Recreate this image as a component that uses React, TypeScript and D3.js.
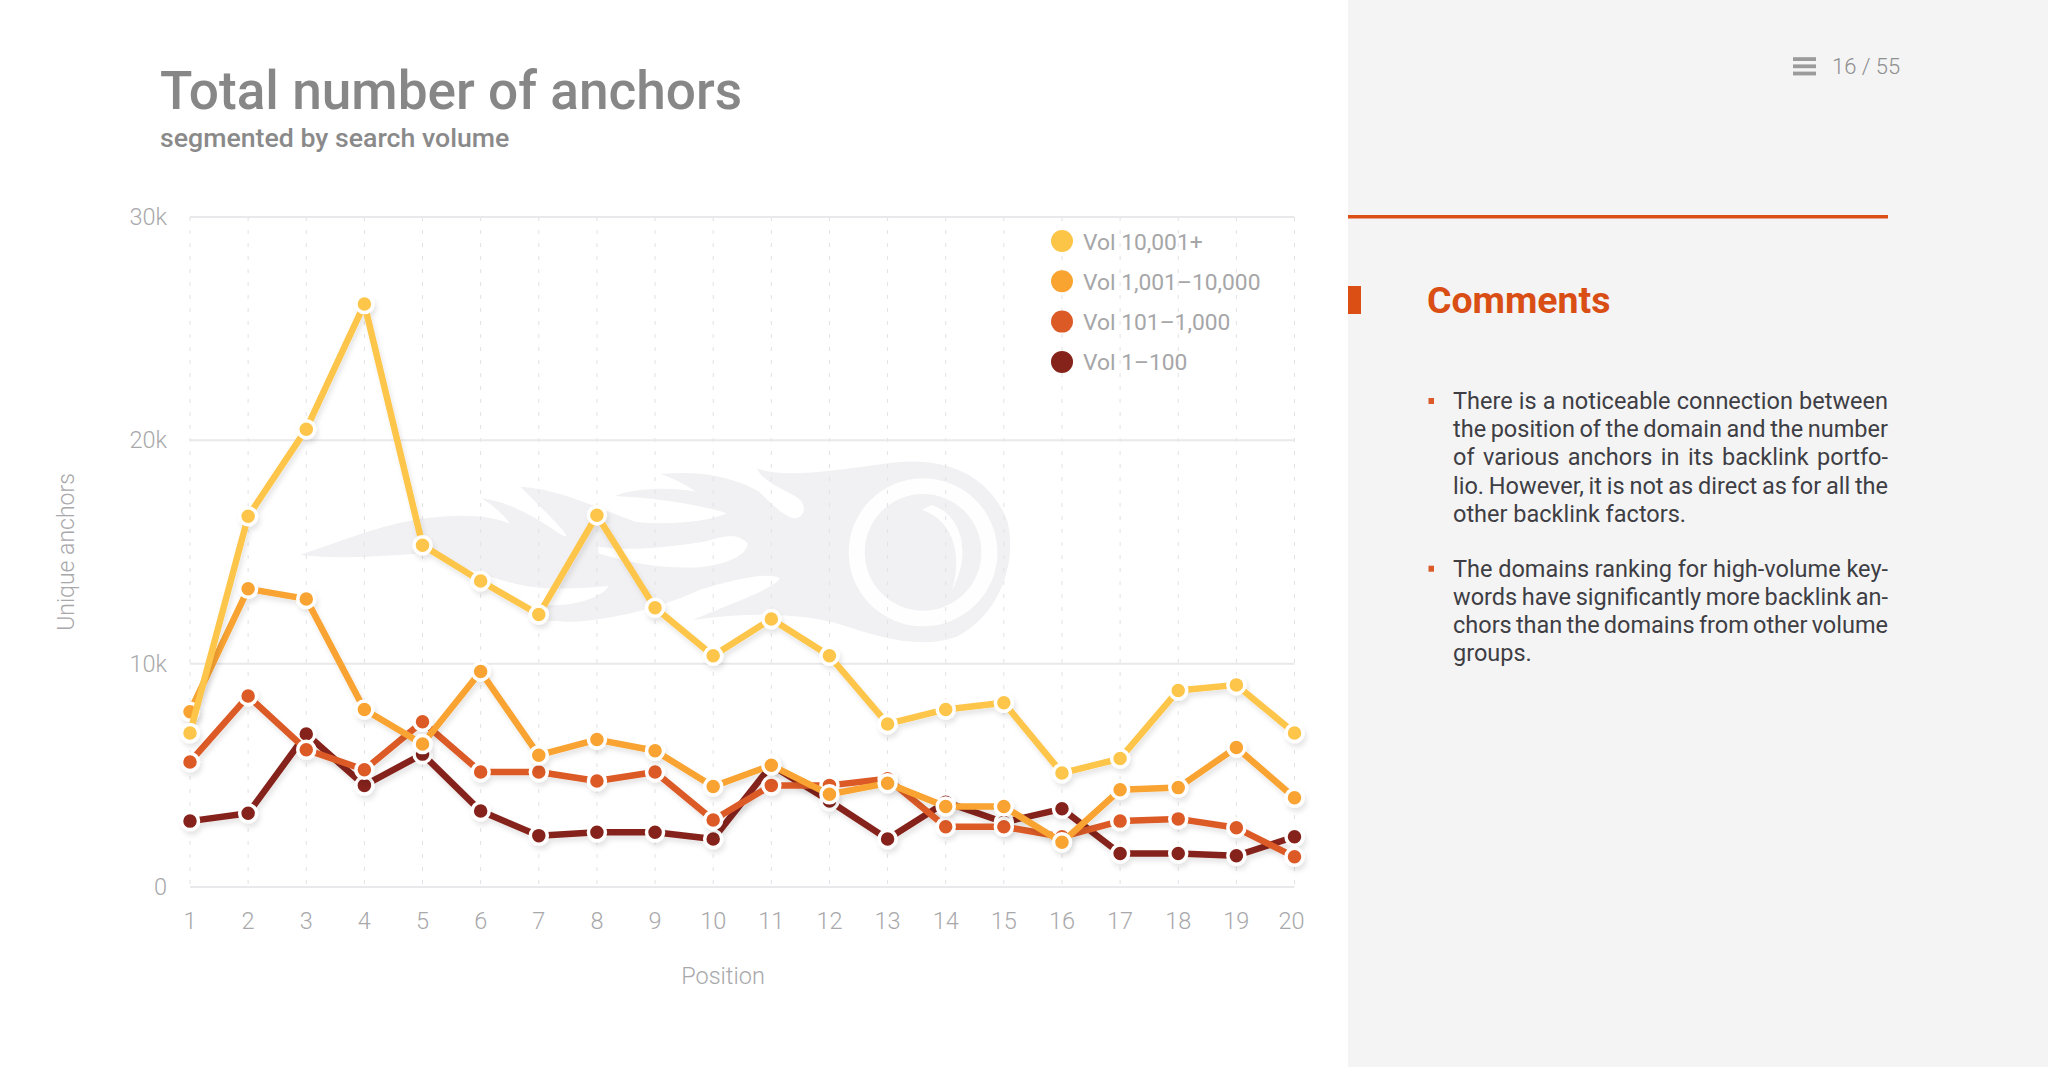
import { useEffect, useRef } from "react"
import * as d3 from "d3"

const positions = d3.range(1, 21)
const yTicks = [0, 10000, 20000, 30000]

// values, in unique anchors
const vol10001 = [6900, 16600, 20500, 26100, 15300, 13700, 12200, 16650, 12500, 10350, 12000, 10350, 7300, 7950, 8250, 5100, 5750, 8800, 9050, 6900]
const vol1001 = [7850, 13350, 12900, 7950, 6400, 9650, 5900, 6600, 6100, 4500, 5450, 4150, 4650, 3600, 3600, 2000, 4350, 4450, 6250, 4000]
const vol101 = [5600, 8550, 6150, 5250, 7400, 5150, 5150, 4750, 5150, 3000, 4550, 4550, 4850, 2700, 2700, 2250, 2950, 3050, 2650, 1350]
const vol1 = [2950, 3300, 6850, 4550, 5950, 3400, 2300, 2450, 2450, 2150, 5450, 3850, 2150, 3800, 2900, 3500, 1500, 1500, 1400, 2250]

const seriesNames = ["Vol 10,001+", "Vol 1,001–10,000", "Vol 101–1,000", "Vol 1–100"]
const seriesValues = [vol10001, vol1001, vol101, vol1]
const seriesColors = ["#fdc548", "#f9a330", "#db5a26", "#85231a"]

const paragraphs = [
  [
    "There is a noticeable connection between",
    "the position of the domain and the number",
    "of various anchors in its backlink portfo-",
    "lio. However, it is not as direct as for all the",
    "other backlink factors.",
  ],
  [
    "The domains ranking for high-volume key-",
    "words have significantly more backlink an-",
    "chors than the domains from other volume",
    "groups.",
  ],
]

// flame logo behind the chart
const flamePath =
  "M0,315 C100,270 200,205 330,198 C390,195 430,205 458,222 C440,190 420,165 395,145 C470,160 520,210 570,255 " +
  "C600,275 560,220 480,110 C560,115 640,170 730,215 C790,225 880,220 930,190 C900,175 800,145 685,138 " +
  "C730,115 800,110 862,125 C840,105 815,85 785,72 C880,60 950,85 1000,125 C1030,165 1050,195 1075,205 " +
  "C1100,205 1105,165 1085,145 C1060,120 1010,100 995,55 C1050,85 1150,65 1280,40 C1400,15 1500,70 1540,210 " +
  "C1565,340 1520,500 1430,560 C1350,600 1260,560 1180,525 C1100,490 980,485 855,510 C920,470 1030,420 1045,385 " +
  "C1030,365 950,385 870,420 C800,465 700,505 600,515 C570,517 545,512 530,510 C520,490 525,475 540,465 " +
  "C600,470 660,440 672,408 C620,415 560,420 500,410 C420,390 350,350 280,310 C200,315 100,330 0,315 Z " +
  "M650,290 C700,300 760,300 880,275 C920,260 950,245 975,280 C975,310 940,340 880,350 C820,358 740,350 650,310 Z"
const highlightPath = "M1355,180 L1375,165 C1440,190 1465,310 1420,420 C1445,310 1420,210 1355,180 Z"

const FONT = "Roboto, sans-serif"
const WIDTH = 2048
const HEIGHT = 1067
const AXIS_GREY = "#a8a8ab"

export default function App() {
  const svgRef = useRef<SVGSVGElement>(null)

  useEffect(() => {
    const svg = d3.select(svgRef.current)
    svg.selectAll("*").remove()

    const x = d3.scalePoint<number>().domain(positions).range([190, 1294.5])
    const y = d3.scaleLinear().domain([0, 30000]).range([887, 217])

    // backgrounds
    svg.append("rect").attr("width", WIDTH).attr("height", HEIGHT).attr("fill", "#ffffff")
    svg.append("rect").attr("x", 1348).attr("width", WIDTH - 1348).attr("height", HEIGHT).attr("fill", "#f4f4f5")

    const filter = svg.append("defs").append("filter").attr("id", "soft").attr("x", "-10%").attr("y", "-10%").attr("width", "120%").attr("height", "120%")
    filter.append("feDropShadow").attr("dx", 2).attr("dy", 4).attr("stdDeviation", 2.5).attr("flood-color", "#000").attr("flood-opacity", 0.1)

    // logo
    const logo = svg.append("g").attr("transform", `translate(300,450) scale(${1 / 2.178},${1 / 3})`)
    logo.append("path").attr("d", flamePath).attr("fill", "#f1f1f3").attr("fill-rule", "evenodd")
    logo.append("ellipse").attr("cx", 1357).attr("cy", 307).attr("rx", 162).attr("ry", 222).attr("fill", "#fefefe")
    logo.append("ellipse").attr("cx", 1357).attr("cy", 307).attr("rx", 127).attr("ry", 175).attr("fill", "#f1f1f3")
    logo.append("path").attr("d", highlightPath).attr("fill", "#fefefe")

    // grid
    svg.append("g").selectAll("line").data(positions).enter().append("line")
      .attr("x1", (d) => x(d)!).attr("x2", (d) => x(d)!)
      .attr("y1", y(30000)).attr("y2", y(0))
      .attr("stroke", "#e2e2e4").attr("stroke-width", 1).attr("stroke-dasharray", "4 9")

    svg.append("g").selectAll("line").data(yTicks).enter().append("line")
      .attr("x1", x(1)!).attr("x2", x(20)!)
      .attr("y1", (d) => y(d)).attr("y2", (d) => y(d))
      .attr("stroke", "#e9e9eb").attr("stroke-width", 2)

    // axis labels
    svg.append("g").selectAll("text").data(yTicks).enter().append("text")
      .attr("x", 167).attr("y", (d) => y(d) + 8)
      .attr("text-anchor", "end").attr("font-family", FONT).attr("font-size", 23.5).attr("font-weight", 300).attr("fill", AXIS_GREY)
      .text((d) => (d === 0 ? "0" : `${d / 1000}k`))

    svg.append("g").selectAll("text").data(positions).enter().append("text")
      .attr("x", (d) => (d === 20 ? x(d)! - 3 : x(d)!)).attr("y", 929)
      .attr("text-anchor", "middle").attr("font-family", FONT).attr("font-size", 23.5).attr("font-weight", 300).attr("fill", AXIS_GREY)
      .text((d) => d)

    svg.append("text").attr("x", 723).attr("y", 984).attr("text-anchor", "middle")
      .attr("font-family", FONT).attr("font-size", 23.5).attr("font-weight", 300).attr("fill", AXIS_GREY).text("Position")

    svg.append("text").attr("transform", "translate(74,552) rotate(-90)").attr("text-anchor", "middle")
      .attr("font-family", FONT).attr("font-size", 23).attr("font-weight", 300).attr("fill", AXIS_GREY).text("Unique anchors")

    // series, darkest first so the yellow one ends up on top
    const line = d3.line<number>().x((_, i) => x(positions[i])!).y((d) => y(d))
    d3.range(seriesValues.length).reverse().forEach((s) => {
      const g = svg.append("g").attr("filter", "url(#soft)")
      g.append("path").attr("d", line(seriesValues[s])).attr("fill", "none")
        .attr("stroke", seriesColors[s]).attr("stroke-width", 6.5).attr("stroke-linejoin", "round")
      g.selectAll("circle").data(seriesValues[s]).enter().append("circle")
        .attr("cx", (_, i) => x(positions[i])!).attr("cy", (d) => y(d)).attr("r", 8.5)
        .attr("fill", seriesColors[s]).attr("stroke", "#fff").attr("stroke-width", 3.5)
    })

    // legend
    const legend = svg.append("g").selectAll("g").data(seriesNames).enter().append("g")
      .attr("transform", (_, i) => `translate(0,${241 + i * 40.3})`)
    legend.append("circle").attr("cx", 1062).attr("r", 11).attr("fill", (_, i) => seriesColors[i])
    legend.append("text").attr("x", 1083).attr("y", 8.5).attr("font-family", FONT).attr("font-size", 22.8).attr("fill", "#a6a6a8").text((d) => d)

    // headings
    svg.append("text").attr("x", 160).attr("y", 109).attr("font-family", FONT).attr("font-size", 53.2).attr("font-weight", 500).attr("fill", "#878787").text("Total number of anchors")
    svg.append("text").attr("x", 160).attr("y", 147).attr("font-family", FONT).attr("font-size", 26.7).attr("font-weight", 500).attr("fill", "#8a8a8a").text("segmented by search volume")

    // page counter
    svg.append("g").selectAll("rect").data([0, 1, 2]).enter().append("rect")
      .attr("x", 1793).attr("y", (d) => 57.2 + d * 7.2).attr("width", 23).attr("height", 3.8).attr("fill", "#9b9b9b")
    svg.append("text").attr("x", 1832).attr("y", 74).attr("font-family", FONT).attr("font-size", 22).attr("font-weight", 300).attr("fill", "#8f8f8f").text("16 / 55")

    // comments panel
    svg.append("rect").attr("x", 1348).attr("y", 215).attr("width", 540).attr("height", 3.5).attr("fill", "#dc4f14")
    svg.append("rect").attr("x", 1348).attr("y", 286).attr("width", 13).attr("height", 28).attr("fill", "#dc4f14")
    svg.append("text").attr("x", 1427).attr("y", 313).attr("font-family", FONT).attr("font-size", 37.4).attr("font-weight", 700).attr("fill", "#d94e14").text("Comments")

    const textLeft = 1453
    const textRight = 1888
    const lineStep = 28.2
    const starts = [409, 576.7]
    paragraphs.forEach((rows, p) => {
      svg.append("rect").attr("x", 1428.5).attr("y", starts[p] - 11).attr("width", 5.5).attr("height", 6).attr("fill", "#dc5a28")
      rows.forEach((row, i) => {
        const t = svg.append("text").attr("x", textLeft).attr("y", starts[p] + i * lineStep)
          .attr("font-family", FONT).attr("font-size", 23.5).attr("fill", "#3e3e44").text(row)
        // justify all but the last row of a paragraph
        if (i < rows.length - 1) {
          const len = (t.node() as SVGTextElement).getComputedTextLength()
          const spaces = row.split(" ").length - 1
          t.attr("word-spacing", (textRight - textLeft - len) / spaces)
        }
      })
    })
  }, [])

  return <svg ref={svgRef} width={WIDTH} height={HEIGHT} style={{ position: "absolute", left: 0, top: 0, display: "block" }} />
}
